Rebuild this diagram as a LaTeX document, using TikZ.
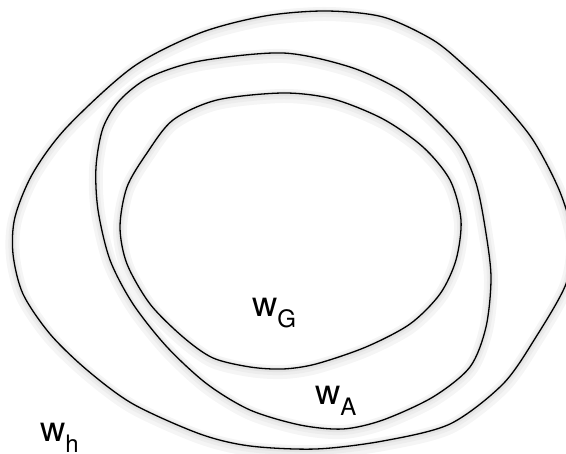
\documentclass[tikz,border=0pt]{standalone}
\usepackage{fontspec}
\setmainfont{TeX Gyre Heros}

\newcommand{\wsub}[1]{w\raisebox{-11pt}{\fontsize{24}{24}\selectfont #1}}

\begin{document}
\begin{tikzpicture}[x=1pt, y=-1pt,
    region/.style={draw=black, line width=1.3pt,
        preaction={draw=black!4, line width=14pt, transform canvas={yshift=-3pt}},
        preaction={draw=black!7, line width=8pt, transform canvas={yshift=-2pt}},
        preaction={draw=black!11, line width=4pt, transform canvas={yshift=-1pt}}},
    lbl/.style={anchor=base west, inner sep=0pt, font=\fontsize{35}{35}\selectfont}
]
    \useasboundingbox (0,0) rectangle (566,454);

    % Outer region: w_h
    \draw[region] plot[smooth cycle] coordinates {
        (326,11) (383,17) (433,40) (466,67) (500,100) (533,140) (560,192)
        (573,240) (566,284) (536,337) (503,384) (450,424) (383,441) (316,449)
        (250,446) (200,434) (133,404) (87,370) (50,334) (23,294) (13,254)
        (15,217) (33,173) (67,127) (133,67) (200,33) (265,16)};

    % Middle region: w_A
    \draw[region] plot[smooth cycle] coordinates {
        (283,53) (350,67) (400,90) (433,117) (460,147) (476,183) (485,227)
        (491,277) (486,327) (470,367) (433,397) (383,420) (343,429) (300,425)
        (250,410) (207,384) (167,347) (133,304) (110,260) (98,210) (96,167)
        (103,128) (120,100) (150,77) (200,61)};

    % Inner region: w_G
    \draw[region] plot[smooth cycle] coordinates {
        (283,93) (333,99) (383,119) (423,147) (450,180) (461,220) (456,260)
        (440,294) (410,324) (366,347) (316,364) (283,369) (250,367) (213,358)
        (183,337) (150,304) (127,264) (120,227) (127,187) (147,153) (173,120)
        (217,100)};

    % Labels
    \node[lbl] (wG) at (252,317) {\wsub{G}};
    \node[lbl] (wA) at (315,405) {\wsub{A}};
    \node[lbl] (wh) at (40,442) {\wsub{h}};
\end{tikzpicture}
\end{document}
